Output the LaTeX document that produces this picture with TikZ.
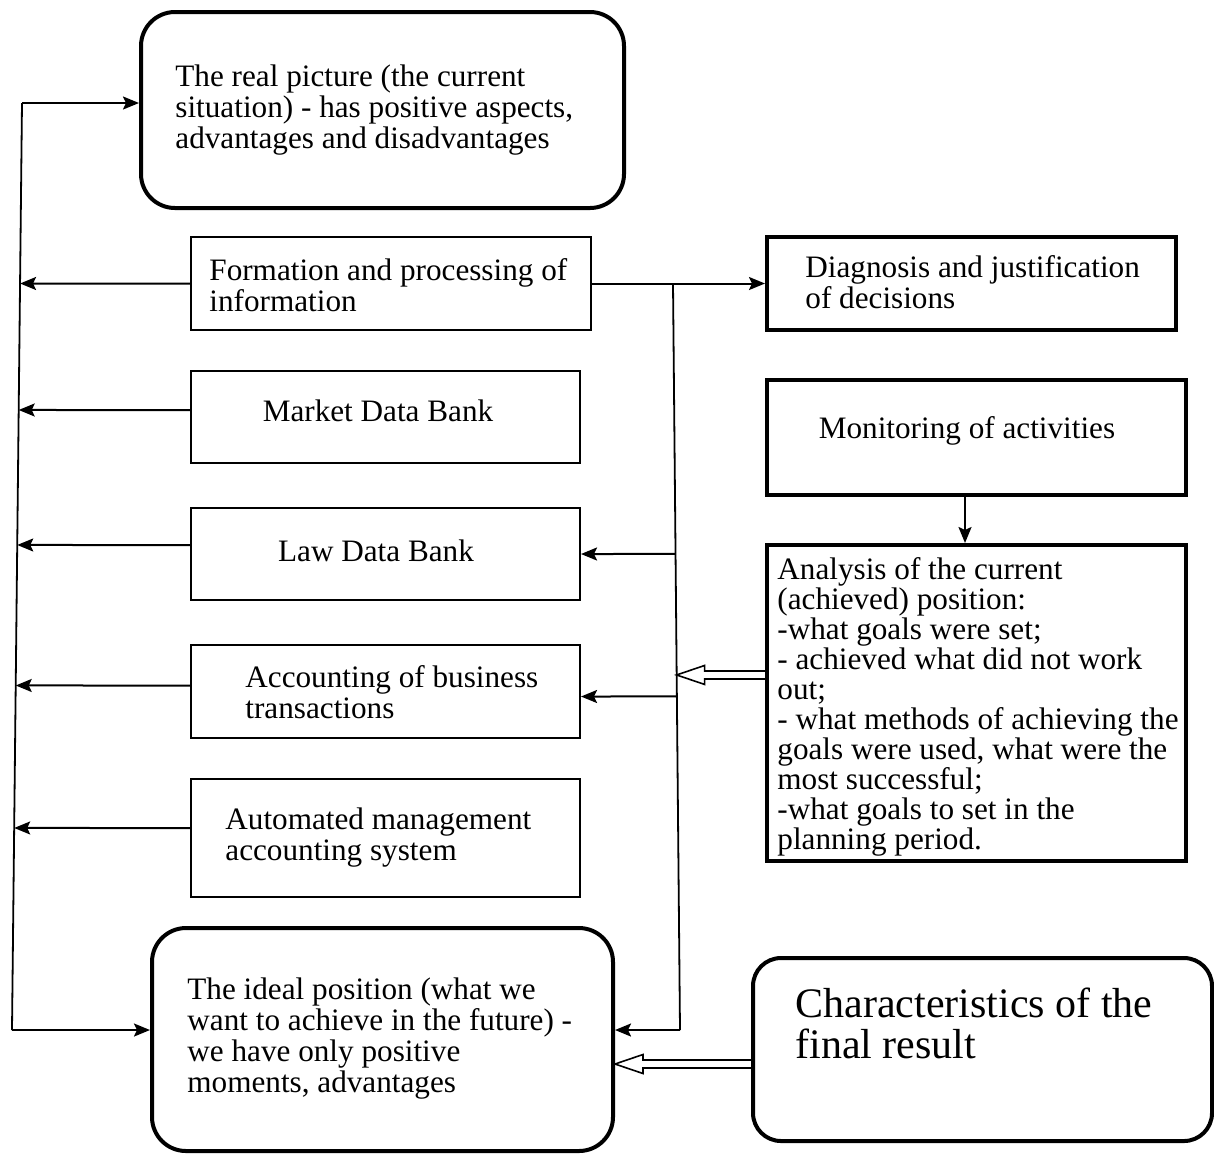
\documentclass[tikz,border=0pt]{standalone}
\usepackage{fontspec}
\setmainfont{Liberation Serif}
\usetikzlibrary{arrows.meta,calc,fit}

\tikzset{
  plainbox/.style={draw, line width=1pt, inner sep=0pt},
  heavybox/.style={draw, line width=2pt, inner sep=0pt},
  roundbox/.style={draw, line width=2pt, inner sep=0pt, rounded corners=17pt},
  txt/.style={inner sep=0pt, font=\fontsize{15.6}{15.5}\selectfont, align=left, anchor=north west},
  onetxt/.style={inner sep=0pt, font=\fontsize{15.6}{15.5}\selectfont, anchor=base},
  link/.style={line width=1pt, -{Stealth[length=8pt,width=6.5pt,inset=1.5pt]}},
  bus/.style={line width=0.9pt},
  hollow/.style={line width=0.8pt, line join=miter},
}

% open double-shafted arrow from #1 (box edge) to the tip #2, pointing left
\newcommand{\openarrow}[2]{%
  \draw[hollow] ([yshift=2pt]#1) -- ([xshift=14pt,yshift=2pt]#2)
    -- ([xshift=14pt,yshift=4.75pt]#2) -- (#2)
    -- ([xshift=14pt,yshift=-4.75pt]#2) -- ([xshift=14pt,yshift=-2pt]#2)
    -- ([yshift=-2pt]#1);}

\begin{document}
\begin{tikzpicture}[x=0.5pt,y=-0.5pt]
\useasboundingbox (0,0) rectangle (1214,1153);

% boxes
\node[roundbox, fit={(141,12) (624,208)}] (real) {};
\node[plainbox, fit={(191,237) (591,330)}] (form) {};
\node[heavybox, fit={(767,237) (1176,330)}] (diag) {};
\node[plainbox, fit={(191,371) (580,463)}] (market) {};
\node[heavybox, fit={(767,380) (1186,495)}] (mon) {};
\node[plainbox, fit={(191,508) (580,600)}] (law) {};
\node[heavybox, fit={(767,545) (1186,861)}] (anal) {};
\node[plainbox, fit={(191,645) (580,738)}] (acc) {};
\node[plainbox, fit={(191,779) (580,897)}] (auto) {};
\node[roundbox, fit={(152,928) (613,1151)}] (ideal) {};
\node[roundbox, rounded corners=14pt, fit={(753,958) (1212,1141)}] (chr) {};

% texts
\node[txt] (t-real) at (175,64) {The real picture (the current\\situation) - has positive aspects,\\advantages and disadvantages};
\node[txt] (t-form) at (209,258) {Formation and processing of\\information};
\node[txt] (t-diag) at (805,255) {Diagnosis and justification\\of decisions};
\node[onetxt] (t-market) at (378,421) {Market Data Bank};
\node[onetxt] (t-mon) at (967,438) {Monitoring of activities};
\node[onetxt] (t-law) at (376,561) {Law Data Bank};
\node[txt, font=\fontsize{15.6}{15}\selectfont] (t-anal) at (777,557) {Analysis of the current\\(achieved) position:\\-what goals were set;\\- achieved what did not work\\out;\\- what methods of achieving the\\goals were used, what were the\\most successful;\\-what goals to set in the\\planning period.};
\node[txt] (t-acc) at (245,665) {Accounting of business\\transactions};
\node[txt] (t-auto) at (225,807) {Automated management\\accounting system};
\node[txt] (t-ideal) at (187,977) {The ideal position (what we\\want to achieve in the future) -\\we have only positive\\moments, advantages};
\node[txt, font=\fontsize{21}{20.5}\selectfont] (t-chr) at (795,988) {Characteristics of the\\final result};

% left feedback bus
\coordinate (lt) at (22,103);
\coordinate (lb) at (12,1030);
\draw[bus] (lt) -- (lb);
\draw[link] (lt) -- (lt -| real.west);
\draw[link] (lb) -- (lb -| ideal.west);
\foreach \b/\s in {form/0pt,market/3.5pt,law/4.5pt,acc/3pt,auto/5pt}{
  \coordinate (\b-out) at ([yshift=\s]\b.west);
  \draw[link] (\b-out) -- (intersection of lt--lb and \b-out--{[xshift=10pt]\b-out});
}

% information flow on the right
\draw[link] (form.east) -- (diag.west);
\coordinate (mt) at ($(form.east)+(81,0)$);
\coordinate (mb) at (680,1030);
\draw[bus] (mt) -- (mb);
\coordinate (law-in) at (law.east);
\draw[link] (intersection of mt--mb and law-in--{[xshift=10pt]law-in}) -- (law-in);
\coordinate (acc-in) at ([yshift=-2.5pt]acc.east);
\draw[link] (intersection of mt--mb and acc-in--{[xshift=10pt]acc-in}) -- (acc-in);
\draw[link] (mb) -- (mb -| ideal.east);

\draw[link] ([xshift=-5.75pt]mon.south) -- ([xshift=-5.75pt]mon.south |- anal.north);

% open arrows
\coordinate (ha) at ([yshift=14pt]anal.west);
\coordinate (hat) at (intersection of mt--mb and ha--{[xshift=10pt]ha});
\openarrow{ha}{hat}
\coordinate (hb) at ([yshift=-7.25pt]chr.west);
\coordinate (hbt) at (hb -| ideal.east);
\openarrow{hb}{hbt}
\end{tikzpicture}
\end{document}
